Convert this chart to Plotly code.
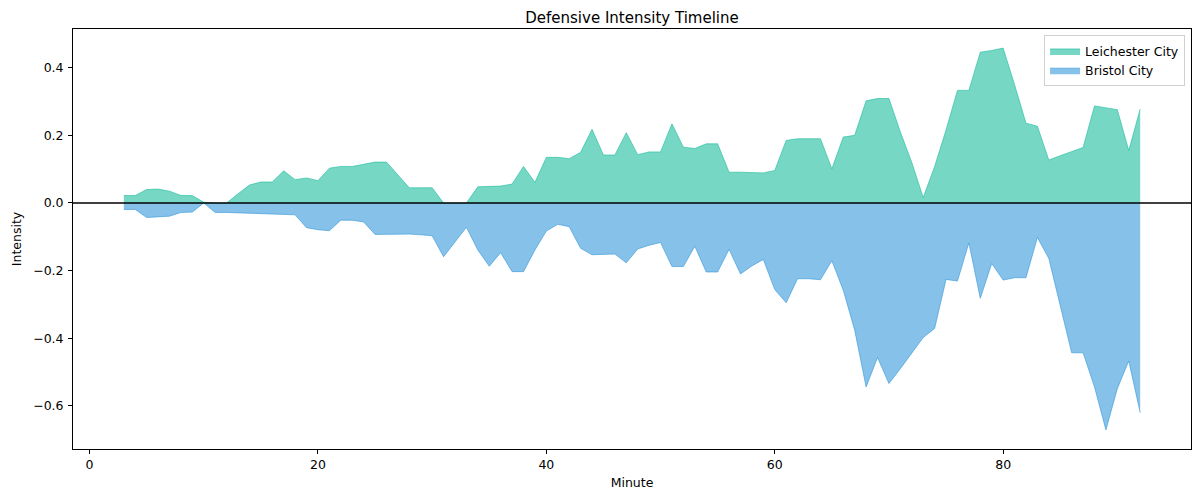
import plotly.graph_objects as go

minutes = list(range(3, 93))

leicester = [
    0.022, 0.022, 0.040, 0.041, 0.035, 0.022, 0.022, 0.002, 0.000, 0.000,
    0.027, 0.053, 0.062, 0.062, 0.095, 0.069, 0.074, 0.066, 0.103, 0.108,
    0.108, 0.115, 0.121, 0.121, 0.083, 0.045, 0.045, 0.045, 0.000, 0.000,
    0.000, 0.048, 0.050, 0.050, 0.056, 0.108, 0.061, 0.135, 0.135, 0.131,
    0.150, 0.218, 0.142, 0.142, 0.208, 0.143, 0.151, 0.151, 0.234, 0.165,
    0.161, 0.175, 0.175, 0.091, 0.091, 0.091, 0.089, 0.096, 0.185, 0.190,
    0.190, 0.190, 0.101, 0.195, 0.200, 0.302, 0.309, 0.309, 0.210, 0.120,
    0.016, 0.108, 0.216, 0.333, 0.333, 0.446, 0.451, 0.458, 0.350, 0.236,
    0.227, 0.127, 0.140, 0.152, 0.164, 0.287, 0.282, 0.276, 0.155, 0.278,
]

bristol = [
    -0.019, -0.019, -0.043, -0.042, -0.039, -0.028, -0.027, 0.000, -0.028, -0.028,
    -0.029, -0.030, -0.031, -0.033, -0.035, -0.035, -0.073, -0.079, -0.082, -0.051,
    -0.051, -0.056, -0.093, -0.092, -0.091, -0.092, -0.094, -0.097, -0.159, -0.116,
    -0.072, -0.139, -0.187, -0.147, -0.203, -0.203, -0.139, -0.083, -0.063, -0.070,
    -0.134, -0.153, -0.151, -0.151, -0.177, -0.136, -0.125, -0.117, -0.188, -0.188,
    -0.128, -0.204, -0.204, -0.137, -0.210, -0.186, -0.167, -0.256, -0.295, -0.224,
    -0.224, -0.227, -0.171, -0.258, -0.376, -0.544, -0.457, -0.534, -0.490, -0.445,
    -0.398, -0.371, -0.226, -0.231, -0.118, -0.282, -0.179, -0.228, -0.221, -0.221,
    -0.102, -0.164, -0.307, -0.443, -0.443, -0.544, -0.671, -0.549, -0.467, -0.620,
]

font = "DejaVu Sans, Verdana, sans-serif"
fs = 12.5

fig = go.Figure()
fig.add_trace(go.Scatter(
    x=minutes, y=leicester, name="Leichester City", mode="lines",
    fill="tozeroy", fillcolor="rgba(26,188,156,0.6)",
    line=dict(color="rgba(26,188,156,0.6)", width=1),
))
fig.add_trace(go.Scatter(
    x=minutes, y=bristol, name="Bristol City", mode="lines",
    fill="tozeroy", fillcolor="rgba(52,152,219,0.6)",
    line=dict(color="rgba(52,152,219,0.6)", width=1),
))

# horizontal line at zero, on top of the fills
fig.add_shape(type="line", xref="paper", yref="y", x0=0, x1=1, y0=0, y1=0,
              line=dict(color="black", width=1.6), layer="above")

axis_common = dict(
    showline=True, linecolor="black", linewidth=0.9, mirror=True,
    ticks="outside", ticklen=4, tickwidth=0.9, tickcolor="black",
    showgrid=False, zeroline=False,
    tickfont=dict(family=font, size=fs, color="black"),
)

# the page body has an 8px margin, so the figure is a bit smaller
fig.update_layout(
    width=1192, height=489,
    margin=dict(l=59, r=8, t=21, b=48),
    paper_bgcolor="white", plot_bgcolor="white",
    font=dict(family=font, size=fs, color="black"),
    title=dict(text="Defensive Intensity Timeline", x=0.5, xref="paper", xanchor="center",
               y=0.9805, yanchor="middle", yref="container",
               font=dict(family=font, size=15, color="black")),
    xaxis=dict(range=[-1.45, 96.45], tickvals=[0, 20, 40, 60, 80], ticklabelstandoff=0,
               title=dict(text="Minute", standoff=7, font=dict(family=font, size=fs)),
               **axis_common),
    yaxis=dict(range=[-0.7275, 0.5145], tickvals=[-0.6, -0.4, -0.2, 0.0, 0.2, 0.4],
               tickformat=".1f", ticklabelstandoff=2,
               title=dict(text="Intensity", standoff=8, font=dict(family=font, size=fs)),
               **axis_common),
    legend=dict(x=0.9947, y=0.985, xanchor="right", yanchor="top",
                bgcolor="rgba(255,255,255,0.8)", bordercolor="#d0d0d0", borderwidth=1,
                font=dict(family=font, size=fs, color="black"),
                itemwidth=30, tracegroupgap=2),
    showlegend=True,
)

fig.write_html("out.html")
